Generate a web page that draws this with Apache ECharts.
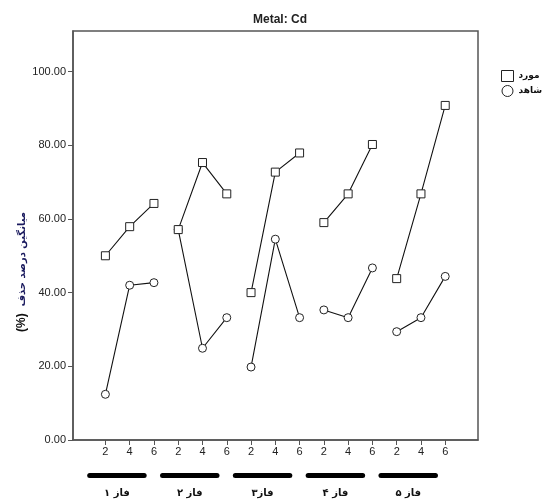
<!DOCTYPE html>
<html>
<head>
<meta charset="utf-8">
<script src="https://cdn.jsdelivr.net/npm/echarts@6/dist/echarts.min.js"></script>
<style>
  html, body { margin: 0; padding: 0; background: #fff; }
  #wrap { width: 545px; height: 502px; }
</style>
</head>
<body>
<div id="wrap"></div>
<script>
var phases = ['فاز ۱', 'فاز ۲', 'فاز۳', 'فاز ۴', 'فاز ۵'];
var times = ['2', '4', '6'];
var yTicks = [0, 20, 40, 60, 80, 100];

// مورد (squares) per phase, time 2/4/6
var caseVals = [
  [50.0, 57.9, 64.2],
  [57.1, 75.3, 66.8],
  [40.0, 72.7, 77.9],
  [59.0, 66.8, 80.2],
  [43.8, 66.8, 90.8]
];
// شاهد (circles)
var ctrlVals = [
  [12.4, 42.0, 42.7],
  [57.1, 24.9, 33.2],
  [19.8, 54.5, 33.2],
  [35.3, 33.2, 46.7],
  [29.4, 33.2, 44.4]
];

var font = 'Arial, "Liberation Sans", sans-serif';
var faFont = '"DejaVu Sans", Arial, sans-serif';

// x position for phase p, time t
function xpos(p, t) { return p * times.length + t + 1; }

var xTicks = [];
phases.forEach(function (ph, p) {
  times.forEach(function (tm, t) { xTicks.push(xpos(p, t)); });
});

function makeSeries(name, vals, symbol, size) {
  return vals.map(function (row, p) {
    return {
      name: name,
      type: 'line',
      symbol: symbol,
      symbolSize: size,
      showSymbol: true,
      lineStyle: { color: '#111', width: 1.1 },
      itemStyle: { color: '#fff', borderColor: '#222', borderWidth: 1 },
      emphasis: { disabled: true },
      data: row.map(function (v, t) { return [xpos(p, t), v]; })
    };
  });
}

var series = [].concat(
  makeSeries('شاهد', ctrlVals, 'circle', 8),
  makeSeries('مورد', caseVals, 'rect', 8)
);

var option = {
  animation: false,
  title: {
    text: 'Metal: Cd',
    left: 275,
    top: 9,
    textAlign: 'center',
    textStyle: { fontFamily: font, fontSize: 12, fontWeight: 'bold', color: '#222' }
  },
  legend: {
    orient: 'vertical',
    left: 496,
    top: 65,
    itemGap: 3,
    itemWidth: 12,
    itemHeight: 11,
    selectedMode: false,
    lineStyle: { width: 0, opacity: 0 },
    itemStyle: { color: '#fff', borderColor: '#222', borderWidth: 1 },
    textStyle: { fontFamily: faFont, fontSize: 9, fontWeight: 'bold', color: '#111' },
    data: [
      { name: 'مورد', icon: 'rect' },
      { name: 'شاهد', icon: 'circle' }
    ]
  },
  grid: {
    left: 73,
    right: 67,
    top: 31,
    bottom: 62,
    show: true,
    borderColor: '#555',
    borderWidth: 1.5,
    containLabel: false
  },
  xAxis: {
    type: 'value',
    min: -0.335,
    max: 16.35,
    axisLine: { show: true, onZero: false, lineStyle: { color: '#555', width: 1.5 } },
    axisTick: { show: true, length: 5, customValues: xTicks, lineStyle: { color: '#555' } },
    axisLabel: {
      customValues: xTicks,
      margin: 6,
      fontFamily: font,
      fontSize: 11,
      color: '#222',
      formatter: function (v) { return times[Math.round(v - 1) % times.length]; }
    },
    splitLine: { show: false }
  },
  yAxis: {
    type: 'value',
    min: 0,
    max: 111,
    axisLine: { show: true, onZero: false, lineStyle: { color: '#555', width: 1.5 } },
    axisTick: { show: true, length: 5, customValues: yTicks, lineStyle: { color: '#555' } },
    axisLabel: {
      customValues: yTicks,
      margin: 7,
      fontFamily: font,
      fontSize: 11,
      color: '#222',
      formatter: function (v) { return v.toFixed(2); }
    },
    splitLine: { show: false }
  },
  series: series
};

var myChart = echarts.init(document.getElementById('wrap'));
myChart.setOption(option);

// phase bars and labels under the x axis
var graphics = [];
phases.forEach(function (ph, p) {
  var x0 = myChart.convertToPixel({ xAxisIndex: 0 }, xpos(p, 0) - 0.75);
  var x1 = myChart.convertToPixel({ xAxisIndex: 0 }, xpos(p, times.length - 1) - 0.3);
  graphics.push({
    type: 'rect',
    shape: { x: x0, y: 473, width: x1 - x0, height: 5, r: 2.5 },
    style: { fill: '#000' }
  });
  graphics.push({
    type: 'text',
    x: (x0 + x1) / 2,
    y: 493,
    style: {
      text: ph,
      fill: '#111',
      font: 'bold 10px ' + faFont,
      textAlign: 'center',
      textVerticalAlign: 'middle'
    }
  });
});

// y axis title
graphics.push({
  type: 'text',
  x: 22,
  y: 272,
  rotation: Math.PI / 2,
  style: {
    text: '{b|(%)}  {a|میانگین درصد حذف}',
    textAlign: 'center',
    textVerticalAlign: 'middle',
    rich: {
      a: { font: 'bold 10px ' + faFont, fill: '#1a1a5e' },
      b: { font: 'bold 12px ' + font, fill: '#111' }
    }
  }
});

myChart.setOption({ graphic: graphics });
</script>
</body>
</html>
